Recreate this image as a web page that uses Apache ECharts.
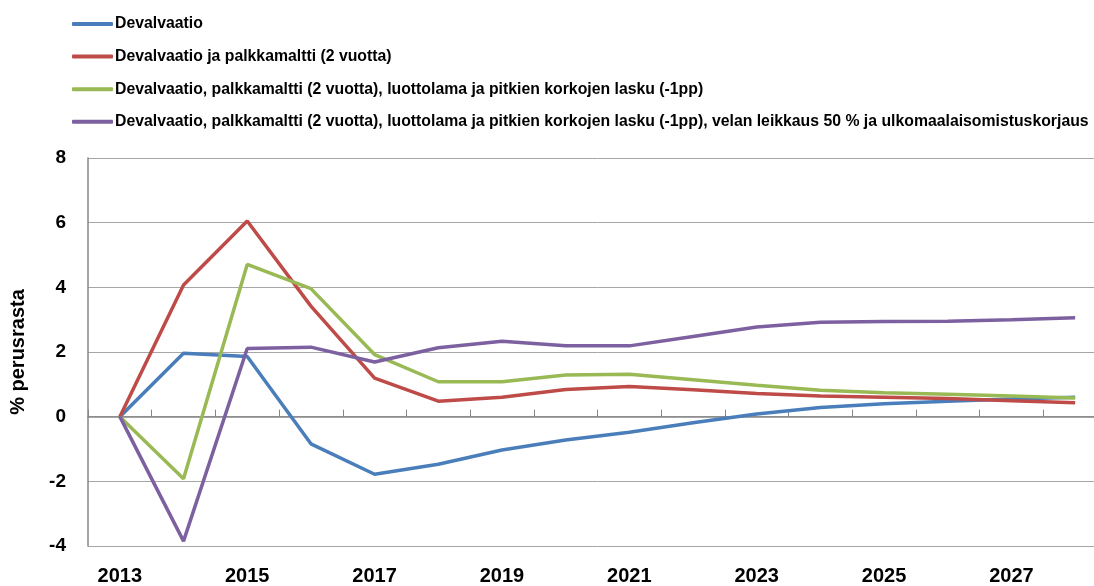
<!DOCTYPE html>
<html><head><meta charset="utf-8">
<script src="https://cdn.jsdelivr.net/npm/echarts@6/dist/echarts.min.js"></script>
<style>html,body{margin:0;padding:0;background:#fff;overflow:hidden}#c{width:1107px;height:586px}</style>
</head><body><div id="c"></div>
<script>
const years = ['2013','2014','2015','2016','2017','2018','2019','2020','2021','2022','2023','2024','2025','2026','2027','2028'];
const seriesNames = [
  'Devalvaatio',
  'Devalvaatio ja palkkamaltti (2 vuotta)',
  'Devalvaatio, palkkamaltti (2 vuotta), luottolama ja pitkien korkojen lasku (-1pp)',
  'Devalvaatio, palkkamaltti (2 vuotta), luottolama ja pitkien korkojen lasku (-1pp), velan leikkaus 50 % ja ulkomaalaisomistuskorjaus'
];
const devalvaatio = [0, 1.96, 1.86, -0.84, -1.78, -1.47, -1.03, -0.72, -0.48, -0.19, 0.08, 0.28, 0.40, 0.48, 0.55, 0.60];
const palkkamaltti = [0, 4.07, 6.05, 3.42, 1.19, 0.48, 0.60, 0.84, 0.93, 0.83, 0.72, 0.64, 0.60, 0.56, 0.49, 0.43];
const luottolama = [0, -1.92, 4.71, 3.96, 1.92, 1.08, 1.08, 1.29, 1.31, 1.14, 0.97, 0.82, 0.74, 0.69, 0.64, 0.58];
const velanLeikkaus = [0, -3.85, 2.11, 2.15, 1.69, 2.13, 2.33, 2.19, 2.19, 2.48, 2.77, 2.92, 2.94, 2.95, 3.00, 3.06];
const yTicks = {min: -4, max: 8, interval: 2};
const colors = ['#4a7ebb', '#be4b48', '#98b954', '#7d60a0'];
const allData = [devalvaatio, palkkamaltti, luottolama, velanLeikkaus];

const chart = echarts.init(document.getElementById('c'));
const font = 'Liberation Sans';
chart.setOption({
  animation: false,
  color: colors,
  legend: {
    orient: 'vertical', left: 67, top: 11,
    itemWidth: 41, itemHeight: 4, itemGap: 16.6, icon: 'roundRect',
    textStyle: {fontFamily: font, fontWeight: 'bold', fontSize: 15.8, color: '#000', padding: [0,0,0,-3], lineHeight: 15},
    data: seriesNames
  },
  grid: {left: 88, right: 0, top: 158, bottom: 39, containLabel: false},
  xAxis: {
    type: 'category', data: years, boundaryGap: true,
    axisLine: {lineStyle: {color: '#868686', width: 1.5}},
    axisTick: {show: true, inside: true, length: 7, interval: 0, lineStyle: {color: '#868686'}},
    axisLabel: {interval: 1, margin: 20, fontFamily: font, fontWeight: 'bold', fontSize: 20, color: '#000'},
    splitLine: {show: false}
  },
  yAxis: {
    type: 'value', min: yTicks.min, max: yTicks.max, interval: yTicks.interval,
    name: '% perusrasta', nameLocation: 'middle', nameGap: 60,
    nameTextStyle: {fontFamily: font, fontWeight: 'bold', fontSize: 20, color: '#000'},
    axisLine: {show: true, lineStyle: {color: '#868686', width: 1.5}},
    axisTick: {show: false},
    axisLabel: {margin: 22, fontFamily: font, fontWeight: 'bold', fontSize: 19, color: '#000'},
    splitLine: {lineStyle: {color: '#a6a6a6', width: 1}}
  },
  series: seriesNames.map((n, i) => ({
    name: n, type: 'line', data: allData[i], symbol: 'none',
    lineStyle: {width: 3.5, color: colors[i]}, itemStyle: {color: colors[i]}
  }))
});
</script></body></html>
